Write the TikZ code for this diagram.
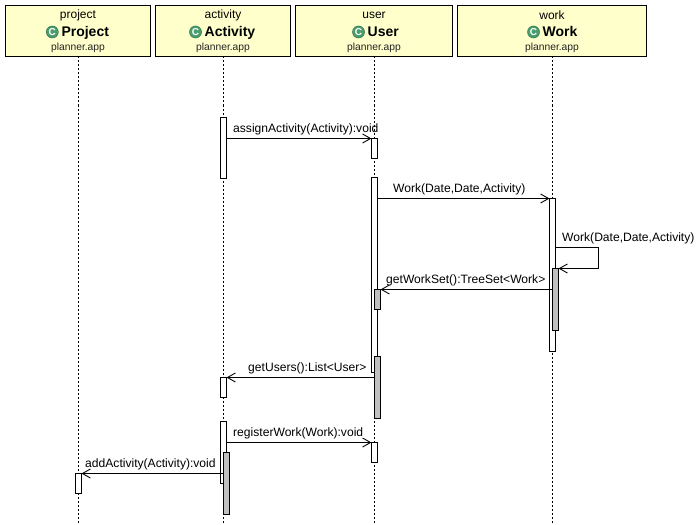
\documentclass[tikz,border=0pt]{standalone}
\usepackage{fontspec}
\setmainfont{Liberation Sans}
\usetikzlibrary{arrows.meta}
\definecolor{hdrfill}{HTML}{FFFFCC}
\definecolor{iconc}{HTML}{4A9E6E}
\definecolor{barg}{HTML}{C0C0C0}
\definecolor{pkg}{HTML}{222222}
\tikzset{
  header/.style={draw=black,line width=1pt,outer sep=0pt,fill=hdrfill,minimum height=51pt,inner sep=0pt},
  role/.style={font=\fontsize{12}{14}\selectfont,inner sep=0pt,text=black},
  cname/.style={font=\fontsize{14}{16}\bfseries\selectfont,inner sep=0pt},
  pack/.style={font=\fontsize{10.3}{12}\selectfont,inner sep=0pt,text=pkg},
  icon/.style={circle,fill=iconc,draw=iconc!70!black,line width=.5pt,minimum size=12pt,inner sep=0pt,text=white,font=\fontsize{10}{10}\bfseries\selectfont},
  life/.style={line width=1pt,dash pattern=on 2pt off 2pt},
  wbar/.style={draw=black,line width=1pt,outer sep=0pt,fill=white,minimum width=6pt,inner sep=0pt,anchor=north},
  gbar/.style={draw=black,line width=1pt,outer sep=0pt,fill=barg,minimum width=6pt,inner sep=0pt,anchor=north},
  msg/.style={line width=1pt,-{Straight Barb[length=8pt,width=9pt,line width=.9pt]}},
  lbl/.style={font=\fontsize{12.1}{14}\selectfont,inner sep=0pt,anchor=base west,text=black}
}
\newcommand{\hdr}[6]{% name, xmin, xmax, role, class, iconx
  \node[header,minimum width=#3pt-#2pt,anchor=north west] (#1) at (#2,5.5) {};
  \node[role] (#1r) at ({(#2+#3)/2},15) {#4};
  \node[cname,anchor=base west] (#1c) at (#6+9,37) {#5};
  \node[icon] (#1i) at (#6,32) {C};
  \node[pack] (#1p) at ({(#2+#3)/2},48) {planner.app};
}
\begin{document}
\begin{tikzpicture}[x=1pt,y=-1pt]
\useasboundingbox (0,0) rectangle (700,524);
\hdr{project}{5.5}{150.5}{project}{Project}{52.3}
\hdr{activity}{155.5}{290.5}{activity}{Activity}{195.5}
\hdr{user}{295.5}{452.5}{user}{User}{358.5}
\hdr{work}{457.5}{646.5}{work}{Work}{533.5}
\coordinate (pend) at (78.5,524);
\coordinate (aend) at (223.5,524);
\coordinate (uend) at (374.5,524);
\coordinate (wend) at (552.5,524);
\draw[life] (project.south -| pend) -- (pend);
\draw[life] (activity.south -| aend) -- (aend);
\draw[life] (user.south -| uend) -- (uend);
\draw[life] (work.south -| wend) -- (wend);
% activation bars
\node[wbar,minimum height=61pt] (a1) at (223.5,117.5) {};
\node[wbar,minimum height=20pt] (u1) at (374.5,138.5) {};
\node[wbar,minimum height=195pt] (u2) at (374.5,177.5) {};
\node[wbar,minimum height=153pt] (w1) at (552.5,198.5) {};
\node[gbar,minimum height=62pt] (w2) at (555.5,268.5) {};
\node[gbar,minimum height=20pt] (u3) at (377.5,289.5) {};
\node[gbar,minimum height=62pt] (u4) at (377.5,356.5) {};
\node[wbar,minimum height=20pt] (a2) at (223.5,377.5) {};
\node[wbar,minimum height=62pt] (a3) at (223.5,421.5) {};
\node[wbar,minimum height=20pt] (u5) at (374.5,442.5) {};
\node[gbar,minimum height=62pt] (a4) at (226.5,452.5) {};
\node[wbar,minimum height=20pt] (p1) at (78.5,473.5) {};
% messages
\draw[msg] (a1.east |- u1.north) -- (u1.north west);
\node[lbl] (m1) at (233,132) {assignActivity(Activity):void};
\draw[msg] (u2.east |- w1.north) -- (w1.north west);
\node[lbl] (m2) at (393,192) {Work(Date,Date,Activity)};
\coordinate (sa) at (598.5,247.5);
\coordinate (sb) at (598.5,268.5);
\draw[msg] (w1.east |- sa) -- (sa) -- (sb) -- (w2.north east);
\node[lbl] (m3) at (562,241) {Work(Date,Date,Activity)};
\draw[msg] (w2.west |- u3.north) -- (u3.north east);
\node[lbl] (m4) at (386,283) {getWorkSet():TreeSet<Work>};
\draw[msg] (u4.west |- a2.north) -- (a2.north east);
\node[lbl] (m5) at (248,371) {getUsers():List<User>};
\draw[msg] (a3.east |- u5.north) -- (u5.north west);
\node[lbl] (m6) at (233,436) {registerWork(Work):void};
\draw[msg] (a4.west |- p1.north) -- (p1.north east);
\node[lbl] (m7) at (85,467) {addActivity(Activity):void};
\end{tikzpicture}
\end{document}
